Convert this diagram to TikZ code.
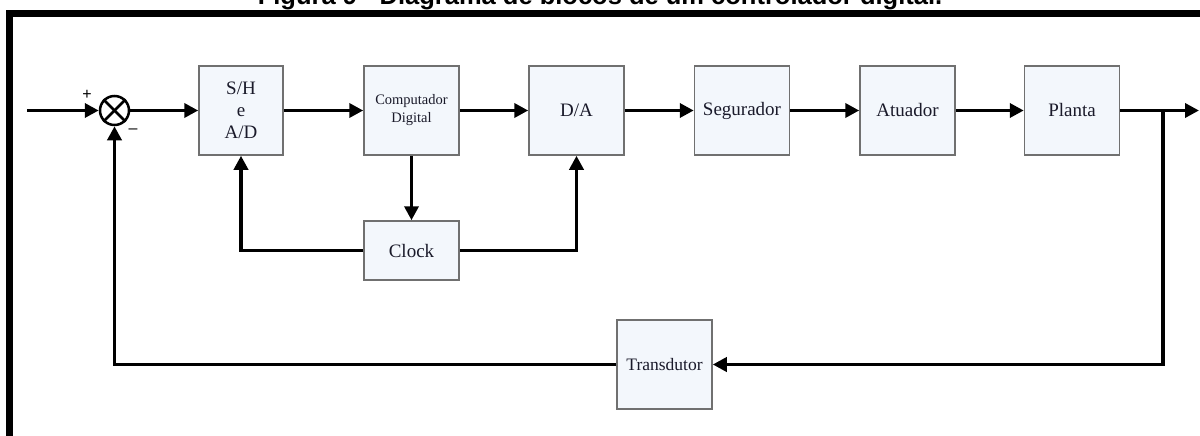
\documentclass[tikz,border=0pt]{standalone}
\usepackage{fontspec}
\setmainfont{Liberation Serif}
\newfontfamily\titlefont{Liberation Sans}
\newfontfamily\signfont{Liberation Sans}
\usetikzlibrary{arrows.meta}
\definecolor{boxfill}{HTML}{F3F7FC}
\definecolor{boxline}{HTML}{707070}
\definecolor{txt}{HTML}{1A1A2A}
\begin{document}
\begin{tikzpicture}[x=1pt,y=-1pt,
  blk/.style={draw=boxline,fill=boxfill,line width=1.5pt,minimum width=95pt,minimum height=89pt,inner sep=0pt,align=center,text=txt,font=\fontsize{19}{22}\selectfont},
  sig/.style={line width=3.5pt,-{Triangle[length=14pt,width=14pt]}},
  sign/.style={font=\signfont\fontsize{16}{18}\selectfont,inner sep=0pt}]
\useasboundingbox (0,0) rectangle (1200,436);
\clip (0,0) rectangle (1200,436);
\fill[white] (0,0) rectangle (1200,436);
\node[anchor=base,font=\titlefont\bfseries\fontsize{25.5}{30}\selectfont,inner sep=0pt] (title) at (600,5) {Figura 9 - Diagrama de blocos de um controlador digital.};
\draw[line width=7pt] (1240,13.5) -- (9.5,13.5) -- (9.5,460);
% blocks
\node[blk,minimum width=84pt,font=\fontsize{19}{22}\selectfont] (sh) at (241,110.5) {S/H\\e\\A/D};
\node[blk,font=\fontsize{14.5}{18}\selectfont] (comp) at (411.5,110.5) {Computador\\Digital};
\node[blk] (da) at (576.5,110.5) {D/A};
\node[blk] (seg) at (742,110.5) {Segurador};
\node[blk] (atu) at (907.5,110.5) {Atuador};
\node[blk] (pla) at (1072,110.5) {Planta};
\node[blk,minimum height=59pt] (clk) at (411.5,250.5) {Clock};
\node[blk,font=\fontsize{17.5}{20}\selectfont] (tra) at (664.5,364.5) {Transdutor};
% summing junction
\node[draw,circle,line width=2.5pt,minimum size=29pt,inner sep=0pt] (sum) at (114.5,110.5) {};
\draw[line width=2.5pt] (sum.north west) -- (sum.south east);
\draw[line width=2.5pt] (sum.north east) -- (sum.south west);
\node[sign] (plus) at (87,95) {+};
\node[sign] (minus) at (133,131) {\textendash};
% coordinates
\coordinate (in) at (27,110.5);
\coordinate (out) at (1199,110.5);
\coordinate (br) at (1163,110.5);
% signals
\draw[sig] (in) -- (sum.west);
\draw[sig] (sum.east) -- (sh.west);
\draw[sig] (sh.east) -- (comp.west);
\draw[sig] (comp.east) -- (da.west);
\draw[sig] (da.east) -- (seg.west);
\draw[sig] (seg.east) -- (atu.west);
\draw[sig] (atu.east) -- (pla.west);
\draw[sig] (pla.east) -- (out);
\draw[sig] (comp.south) -- (clk.north);
\draw[sig] (clk.west) -| (sh.south);
\draw[sig] (clk.east) -| (da.south);
\draw[sig] (br) |- (tra.east);
\draw[sig] (tra.west) -| (sum.south);
\end{tikzpicture}
\end{document}
